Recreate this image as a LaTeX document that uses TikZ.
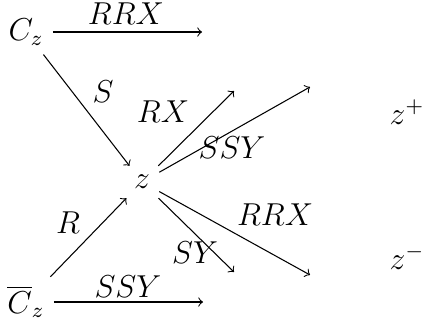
\documentclass[tikz,border=0pt]{standalone}
\begin{document}
\begin{tikzpicture}[every node/.style={font=\large}]
\useasboundingbox (0,0) rectangle (5.626,4.256);
    \node (Cz) at (0.346,3.830) {$C_z$};
    \node (Cbz) at (0.346,0.239) {$\overline{C}_z$};
    \node (z) at (1.889,1.835) {$z$};
    \node (zp) at (5.413,2.766) {$z^+$};
    \node (zm) at (5.413,0.838) {$z^-$};
\coordinate (a1) at (2.687,3.830);
\coordinate (b1) at (2.700,0.239);
\coordinate (e1) at (3.112,3.046);
\coordinate (e2) at (4.123,3.099);
\coordinate (e3) at (4.123,0.599);
\coordinate (e4) at (3.112,0.638);
        \draw[->] (Cz) -- (a1);
        \draw[->] (Cbz) -- (b1);
        \draw[->] (Cz) -- (z);
        \draw[->] (Cbz) -- (z);
        \foreach \e in {e1,e2,e3,e4}
    \draw[->] (z) -- (\e);
    \node (lrrxa) at (1.676,4.070) {$RRX$};
    \node (lssyb) at (1.702,0.445) {$SSY$};
    \node (ls) at (1.370,3.032) {$S$};
    \node (lr) at (0.904,1.290) {$R$};
    \node (lrx) at (2.168,2.766) {$RX$};
    \node (lssy) at (3.086,2.288) {$SSY$};
    \node (lrrx) at (3.658,1.397) {$RRX$};
    \node (lsy) at (2.594,0.891) {$SY$};
    \end{tikzpicture}
\end{document}
